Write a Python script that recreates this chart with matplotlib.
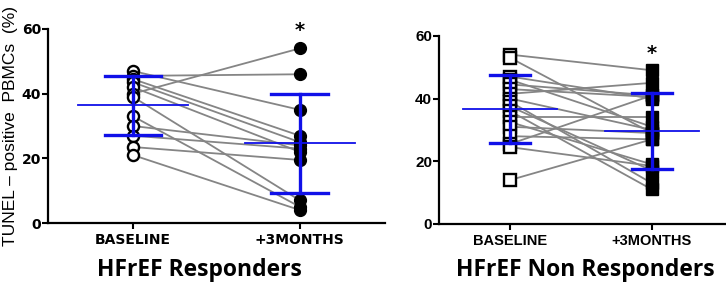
import matplotlib
matplotlib.use("Agg")
import matplotlib.pyplot as plt

# HFrEF responders: TUNEL-positive PBMCs (%), paired baseline -> +3 months
resp_base = [47, 45.5, 44.5, 43.5, 42, 40, 39, 33, 30, 27, 23.5, 21]
resp_fu = [35, 46, 27, 25, 22, 54, 7, 5, 24, 23, 19.5, 4]
resp_mean = [36.4, 24.6]
resp_sd = [9.2, 15.3]

# HFrEF non responders
nonr_base = [54, 53, 47, 46, 44.5, 43, 41.5, 40, 39, 37.5, 36, 34, 32.5, 31, 28, 25.5, 24.5, 14]
nonr_fu = [49, 29, 40, 31, 41, 40.5, 45, 30, 13, 17, 11, 34, 19, 29, 27, 41, 18.5, 27]
nonr_mean = [36.6, 29.6]
nonr_sd = [10.8, 12.2]

groups = ["BASELINE", "+3MONTHS"]
star_y = [59.5, 54.5]
titles = ["HFrEF Responders", "HFrEF Non Responders"]

BLUE = "#1010e8"
GREY = "#858585"

fig = plt.figure(figsize=(7.26, 2.90), dpi=100)
ax1 = fig.add_axes([0.0661, 0.231, 0.464, 0.669])
ax2 = fig.add_axes([0.6047, 0.2276, 0.395, 0.649])


def draw(ax, base, fu, mean, sd, marker, ms_open, ms_fill, font, fsize, mhalf, chalf, star):
    for b, f in zip(base, fu):
        ax.plot([0, 1], [b, f], color=GREY, lw=1.3, zorder=1)
    ax.plot([0] * len(base), base, ls="none", marker=marker, ms=ms_open,
            mfc="white", mec="black", mew=1.7, zorder=2)
    ax.plot([1] * len(fu), fu, ls="none", marker=marker, ms=ms_fill,
            mfc="black", mec="black", zorder=2)
    for x, m, s in zip([0, 1], mean, sd):
        ax.plot([x - mhalf, x + mhalf], [m, m], color=BLUE, lw=1.3, zorder=3)
        ax.plot([x, x], [m - s, m + s], color=BLUE, lw=2.4, zorder=3)
        for yy in (m - s, m + s):
            ax.plot([x - chalf, x + chalf], [yy, yy], color=BLUE, lw=2.4, zorder=3)
    ax.text(1, star, "*", ha="center", va="center", fontsize=14, fontweight="bold")
    ax.set_ylim(0, 60)
    ax.set_yticks([0, 20, 40, 60])
    ax.set_xticks([0, 1])
    ax.set_xticklabels(groups)
    for sp in ["top", "right"]:
        ax.spines[sp].set_visible(False)
    for sp in ["left", "bottom"]:
        ax.spines[sp].set_linewidth(1.6)
    ax.tick_params(axis="y", length=4, width=1.5, pad=1)
    ax.tick_params(axis="x", length=4, width=1.5, pad=3)
    for lab in ax.get_xticklabels() + ax.get_yticklabels():
        lab.set_fontfamily(font)
        lab.set_fontweight("bold")
        lab.set_fontsize(fsize)


draw(ax1, resp_base, resp_fu, resp_mean, resp_sd, "o", 8, 8.5,
     "DejaVu Sans", 10, 0.33, 0.17, star_y[0])
ax1.set_xlim(-0.51, 1.51)
ax1.set_ylabel("TUNEL \u2013 positive  PBMCs  (%)", fontsize=12.5,
               family="Liberation Sans", labelpad=3)

draw(ax2, nonr_base, nonr_fu, nonr_mean, nonr_sd, "s", 8.5, 9.2,
     "Liberation Sans", 10.5, 0.33, 0.14, star_y[1])
ax2.set_xlim(-0.5, 1.52)
for lab in ax2.get_yticklabels():
    lab.set_fontsize(11)

fig.text(0.275, 0.068, titles[0], ha="center", va="center",
         fontsize=16.5, fontweight="bold", family="Open Sans")
fig.text(0.806, 0.068, titles[1], ha="center", va="center",
         fontsize=16.5, fontweight="bold", family="Open Sans")

fig.savefig("out.png", dpi=100)
